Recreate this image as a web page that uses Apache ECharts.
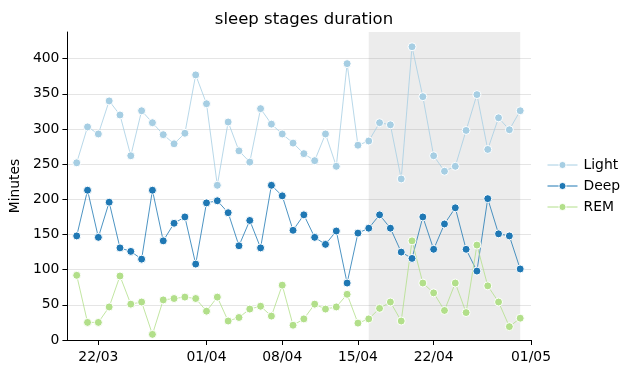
<!DOCTYPE html>
<html>
<head>
<meta charset="utf-8">
<script src="https://cdn.jsdelivr.net/npm/echarts@6/dist/echarts.min.js"></script>
<style>html,body{margin:0;padding:0;background:#fff}#c{width:634px;height:374px}</style>
</head>
<body>
<div id="c"></div>
<script>
const dates = ['2023-03-20','2023-03-21','2023-03-22','2023-03-23','2023-03-24','2023-03-25','2023-03-26','2023-03-27','2023-03-28','2023-03-29','2023-03-30','2023-03-31',
  '2023-04-01','2023-04-02','2023-04-03','2023-04-04','2023-04-05','2023-04-06','2023-04-07','2023-04-08','2023-04-09','2023-04-10','2023-04-11','2023-04-12','2023-04-13','2023-04-14','2023-04-15','2023-04-16','2023-04-17','2023-04-18','2023-04-19','2023-04-20','2023-04-21','2023-04-22','2023-04-23','2023-04-24','2023-04-25','2023-04-26','2023-04-27','2023-04-28','2023-04-29','2023-04-30'];
const light = [252,303,293,340,320,262,326,309,292,279,294,377,336,220,310,269,253,329,307,293,280,265,255,293,247,393,277,283,309,306,229,417,346,262,240,247,298,349,271,316,299,326];
const deep  = [148,213,146,196,131,126,115,213,141,166,175,108,195,198,181,134,170,131,220,205,156,178,146,136,155,81,152,159,178,159,125,116,175,129,165,188,129,98,201,151,148,101];
const rem   = [92,25,25,47,91,51,54,8,57,59,61,59,41,61,27,32,44,48,34,78,21,30,51,44,47,65,24,30,45,54,27,141,81,67,42,81,39,135,77,54,19,31];
const xTickDates = ['2023-03-22','2023-04-01','2023-04-08','2023-04-15','2023-04-22','2023-05-01'];
const yTicks = [0,50,100,150,200,250,300,350,400];
const shadeRange = ['2023-04-16','2023-04-30'];

const ts = s => new Date(s + 'T00:00:00Z').getTime();
const DAY = 86400000;
const xMin = ts(dates[0]) - 0.86 * DAY;
const xMax = ts('2023-05-01');
const pad = n => (n < 10 ? '0' : '') + n;
const fmt = v => { const d = new Date(v); return pad(d.getUTCDate()) + '/' + pad(d.getUTCMonth() + 1); };

const mk = (name, vals, color) => ({
  name, type: 'line', data: dates.map((d, i) => [ts(d), vals[i]]),
  symbol: 'circle', symbolSize: 8, showSymbol: true,
  lineStyle: { width: 0.8, color },
  itemStyle: { color, borderColor: '#fff', borderWidth: 1 },
  emphasis: { disabled: true }, z: 3
});

const chart = echarts.init(document.getElementById('c'), null, { renderer: 'canvas' });
const sLight = mk('Light', light, '#a6cee3');
sLight.markArea = {
  silent: true,
  itemStyle: { color: 'rgba(128,128,128,0.15)' },
  data: [[{ xAxis: ts(shadeRange[0]) }, { xAxis: ts(shadeRange[1]) }]]
};
chart.setOption({
  animation: false,
  textStyle: { fontFamily: 'DejaVu Sans' },
  title: { text: 'sleep stages duration', left: 299, top: 6, textAlign: 'center',
    textStyle: { fontSize: 16.5, fontWeight: 'normal', color: '#000', fontFamily: 'DejaVu Sans' } },
  legend: {
    orient: 'vertical', left: 542, top: 153, itemWidth: 30, itemHeight: 9, itemGap: 7,
    lineStyle: { width: 1 },
    itemStyle: { borderWidth: 1, borderColor: '#fff' },
    textStyle: { fontSize: 13.9, color: '#000', fontFamily: 'DejaVu Sans', padding: [0, 0, 0, 1] },
    data: ['Light', 'Deep', 'REM']
  },
  grid: { left: 67, right: 103, top: 32, bottom: 34, containLabel: false },
  xAxis: {
    type: 'value', min: xMin, max: xMax, scale: true,
    axisLine: { lineStyle: { color: '#000', width: 1 } },
    axisTick: { show: true, length: 5, lineStyle: { color: '#000' }, customValues: xTickDates.map(ts) },
    axisLabel: { customValues: xTickDates.map(ts), formatter: fmt, fontSize: 13.9, color: '#000', margin: 10, fontFamily: 'DejaVu Sans' },
    splitLine: { show: false }
  },
  yAxis: {
    type: 'value', min: 0, max: 438,
    name: 'Minutes', nameLocation: 'middle', nameGap: 41, nameRotate: 90,
    nameTextStyle: { fontSize: 13.9, color: '#000', fontFamily: 'DejaVu Sans' },
    axisLine: { show: true, lineStyle: { color: '#000', width: 1 } },
    axisTick: { show: true, length: 5, lineStyle: { color: '#000' }, customValues: yTicks },
    axisLabel: { customValues: yTicks, fontSize: 13.9, color: '#000', margin: 8, fontFamily: 'DejaVu Sans' },
    splitLine: { show: true, lineStyle: { color: '#e5e5e5', width: 1 } }
  },
  series: [sLight, mk('Deep', deep, '#1f78b4'), mk('REM', rem, '#b2df8a')]
});
</script>
</body>
</html>
